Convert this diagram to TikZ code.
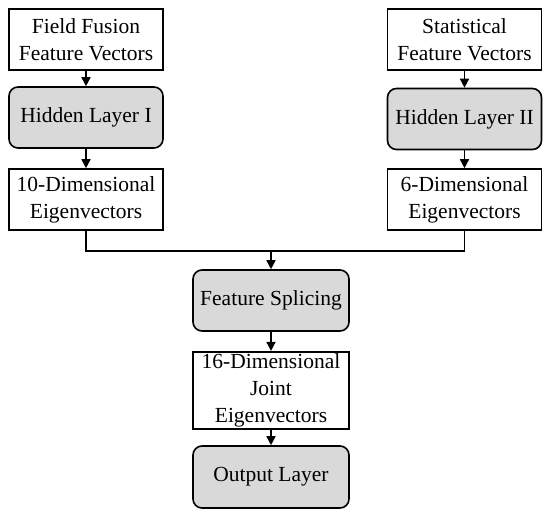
\documentclass[tikz,border=0pt]{standalone}
\usepackage{fontspec}
\setmainfont{Liberation Serif}
\usepackage{tikz}
\usetikzlibrary{arrows.meta, positioning}
\tikzstyle{plainbox} = [draw, line width=1.6pt, fill=white, minimum width=154pt, minimum height=61pt, align=center, inner sep=2pt, font=\fontsize{21.5}{27}\selectfont]
\tikzstyle{layerbox} = [plainbox, fill=gray!30, rounded corners=9pt]
\tikzstyle{arrow} = [line width=1.6pt, -{Triangle[length=9pt,width=9pt]}]

\begin{document}
\begin{tikzpicture}[x=1pt, y=-1pt]
\useasboundingbox (0,0) rectangle (550,514);

% Left branch
\node[plainbox] (fieldvec) at (86,39.5) {Field Fusion\\Feature Vectors};
\node[layerbox] (hidden1) at (86,117.5) {Hidden Layer I};
\node[plainbox] (dim10) at (86,199.5) {10-Dimensional\\Eigenvectors};

% Right branch
\node[plainbox] (statvec) at (464.5,39.5) {Statistical\\Feature Vectors};
\node[layerbox] (hidden2) at (464.5,119) {Hidden Layer II};
\node[plainbox] (dim6) at (464.5,199.5) {6-Dimensional\\Eigenvectors};

% Joint part
\coordinate (join) at (271,251);
\node[layerbox, minimum width=156pt] (splice) at (271,300.5) {Feature Splicing};
\node[plainbox, minimum width=156pt, minimum height=75pt] (dim16) at (271,390.5) {16-Dimensional\\Joint\\Eigenvectors};
\node[layerbox, minimum width=156pt, minimum height=62pt] (output) at (271,477) {Output Layer};

% Arrows
\draw[arrow] (fieldvec) -- (hidden1);
\draw[arrow] (hidden1) -- (dim10);
\draw[arrow] (statvec) -- (hidden2);
\draw[arrow] (hidden2) -- (dim6);
\draw[line width=1.6pt] (dim10.south) -- (dim10.south |- join) -- (dim6.south |- join) -- (dim6.south);
\draw[arrow] (join) -- (splice);
\draw[arrow] (splice) -- (dim16);
\draw[arrow] (dim16) -- (output);

\end{tikzpicture}
\end{document}
